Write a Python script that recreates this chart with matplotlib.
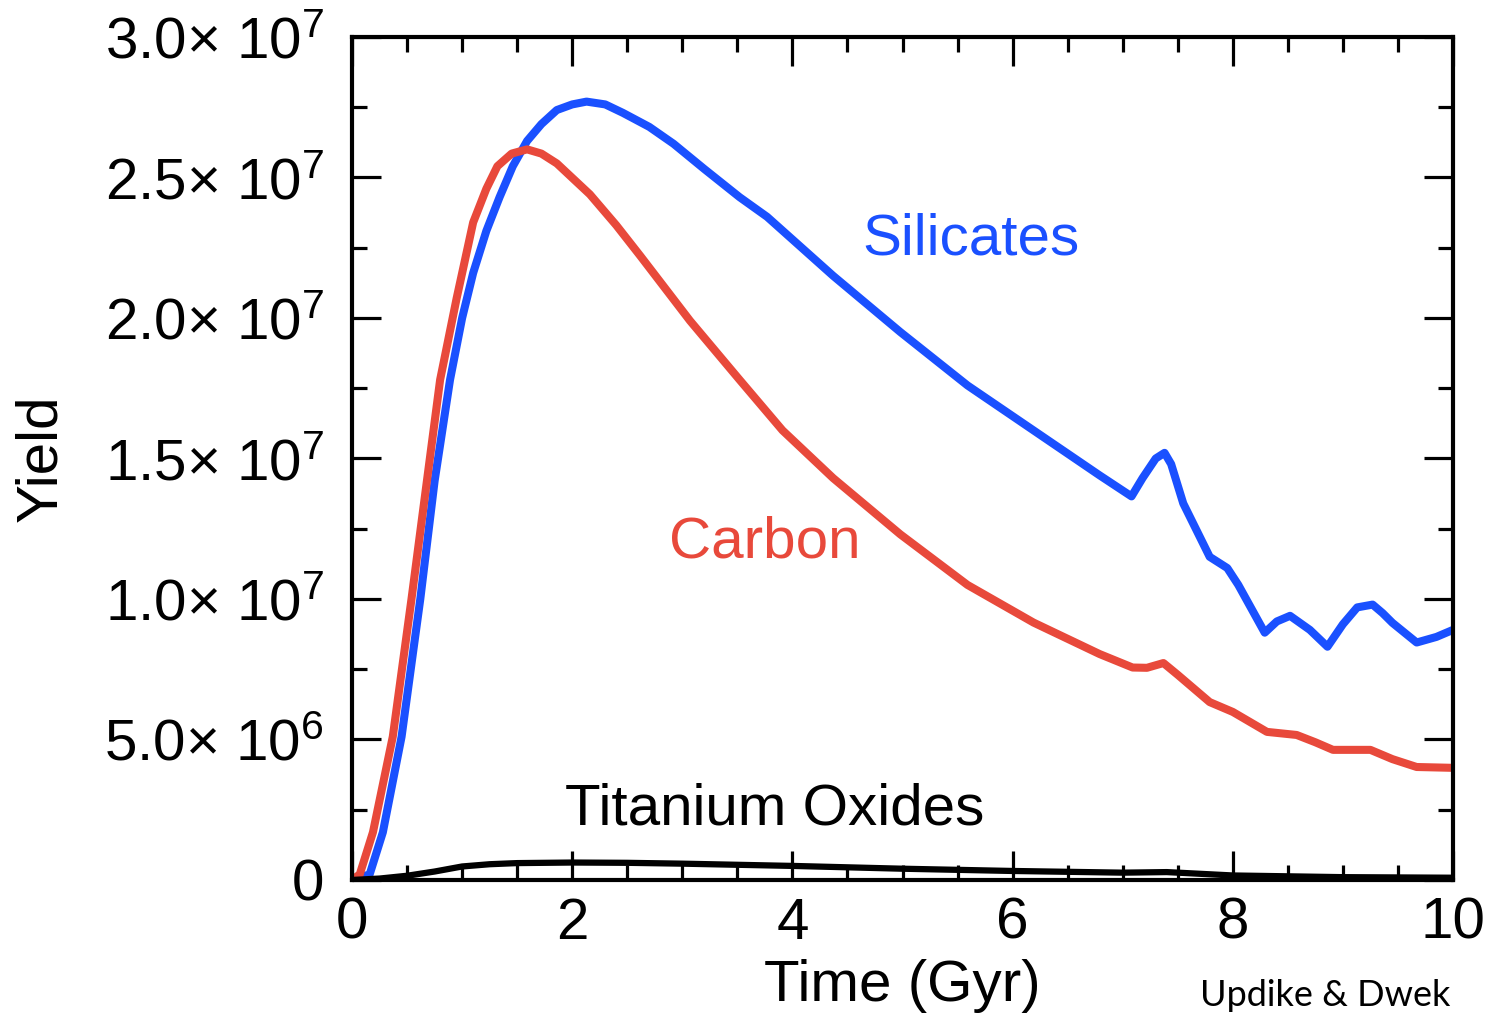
import matplotlib.pyplot as plt
from matplotlib.ticker import MultipleLocator, FixedLocator

plt.rcParams['font.family'] = ['Liberation Sans', 'DejaVu Sans']
plt.rcParams['mathtext.fontset'] = 'custom'
plt.rcParams['mathtext.rm'] = 'Liberation Sans'
plt.rcParams['mathtext.it'] = 'Liberation Sans'

# Time (Gyr) and yields (units of 1e6)
t_sil = [0.0, 0.16, 0.28, 0.45, 0.62, 0.75, 0.89, 1.00, 1.10, 1.22, 1.34, 1.46,
         1.59, 1.72, 1.86, 2.00, 2.13, 2.30, 2.46, 2.70, 2.92, 3.20, 3.52, 3.77,
         4.37, 4.98, 5.59, 6.19, 6.79, 7.08, 7.18, 7.30, 7.38, 7.44, 7.55, 7.79,
         7.95, 8.05, 8.29, 8.40, 8.52, 8.70, 8.86, 9.00, 9.13, 9.27, 9.36, 9.45,
         9.67, 9.85, 10.0]
y_sil = [0.0, 0.2, 1.7, 5.1, 10.0, 14.2, 17.8, 20.0, 21.6, 23.1, 24.3, 25.4,
         26.3, 26.9, 27.4, 27.6, 27.7, 27.6, 27.3, 26.8, 26.2, 25.3, 24.3, 23.6,
         21.5, 19.5, 17.6, 16.0, 14.4, 13.65, 14.3, 15.0, 15.2, 14.8, 13.4, 11.5,
         11.1, 10.5, 8.8, 9.2, 9.4, 8.9, 8.3, 9.1, 9.7, 9.8, 9.5, 9.15,
         8.45, 8.65, 8.9]

t_carb = [0.0, 0.07, 0.19, 0.37, 0.54, 0.68, 0.80, 0.95, 1.10, 1.22, 1.32, 1.45,
          1.59, 1.72, 1.86, 2.16, 2.40, 2.62, 3.07, 3.52, 3.91, 4.37, 4.98, 5.59,
          6.19, 6.79, 7.09, 7.22, 7.37, 7.50, 7.79, 8.00, 8.31, 8.58, 8.75, 8.91,
          9.25, 9.45, 9.67, 10.0]
y_carb = [0.0, 0.2, 1.7, 5.1, 10.0, 14.2, 17.8, 20.7, 23.4, 24.6, 25.4, 25.85,
          26.0, 25.85, 25.5, 24.4, 23.3, 22.2, 19.9, 17.8, 16.0, 14.3, 12.3, 10.5,
          9.16, 8.04, 7.56, 7.55, 7.72, 7.3, 6.33, 5.98, 5.27, 5.16, 4.9, 4.63,
          4.63, 4.3, 4.02, 3.99]

t_ti = [0.0, 0.25, 0.5, 0.75, 1.0, 1.25, 1.5, 2.0, 2.5, 3.0, 4.0, 5.0, 6.0, 7.0,
        7.4, 8.0, 9.0, 10.0]
y_ti = [0.0, 0.05, 0.15, 0.30, 0.48, 0.56, 0.60, 0.62, 0.61, 0.58, 0.50, 0.40,
        0.32, 0.26, 0.28, 0.16, 0.10, 0.08]

ytick_vals = [0, 5e6, 1e7, 1.5e7, 2e7, 2.5e7, 3e7]
ytick_labels = ['0', r'5.0× 10$^{6}$', r'1.0× 10$^{7}$', r'1.5× 10$^{7}$',
                r'2.0× 10$^{7}$', r'2.5× 10$^{7}$', r'3.0× 10$^{7}$']

blue = '#1a50ff'
red = '#e8493b'
fs = 42

fig = plt.figure(figsize=(14.93, 10.16), dpi=100)
ax = fig.add_axes([0.2358, 0.1339, 0.7374, 0.8297])

ax.plot(t_sil, [v * 1e6 for v in y_sil], color=blue, lw=5.8, solid_joinstyle='round')
ax.plot(t_carb, [v * 1e6 for v in y_carb], color=red, lw=5.8, solid_joinstyle='round')
ax.plot(t_ti, [v * 1e6 for v in y_ti], color='black', lw=4.5)

ax.set_xlim(0, 10)
ax.set_ylim(0, 3e7)
ax.xaxis.set_major_locator(MultipleLocator(2))
ax.xaxis.set_minor_locator(MultipleLocator(0.5))
ax.yaxis.set_major_locator(FixedLocator(ytick_vals))
ax.yaxis.set_minor_locator(MultipleLocator(2.5e6))
ax.set_yticklabels(ytick_labels)

ax.tick_params(which='both', direction='in', top=True, right=True, width=2.3, colors='black')
ax.tick_params(which='major', length=21, labelsize=fs)
ax.tick_params(which='minor', length=11)
ax.tick_params(axis='y', pad=20)
ax.tick_params(axis='x', pad=12)
for s in ax.spines.values():
    s.set_linewidth(3)

ax.set_xlabel('Time (Gyr)', fontsize=fs, labelpad=6)
ax.set_ylabel('Yield', fontsize=fs, labelpad=26)

ax.text(5.62, 2.28e7, 'Silicates', color=blue, fontsize=fs, ha='center', va='center')
ax.text(3.75, 1.2e7, 'Carbon', color=red, fontsize=fs, ha='center', va='center')
ax.text(3.84, 2.5e6, 'Titanium Oxides', color='black', fontsize=fs, ha='center', va='center')

# source credit in the bottom-right corner
fig.text(1200 / 1493, 4 / 1016, 'Updike & Dwek', fontsize=26, family=['Lato', 'DejaVu Sans'],
         ha='left', va='bottom')

fig.savefig('out.png', dpi=100)
